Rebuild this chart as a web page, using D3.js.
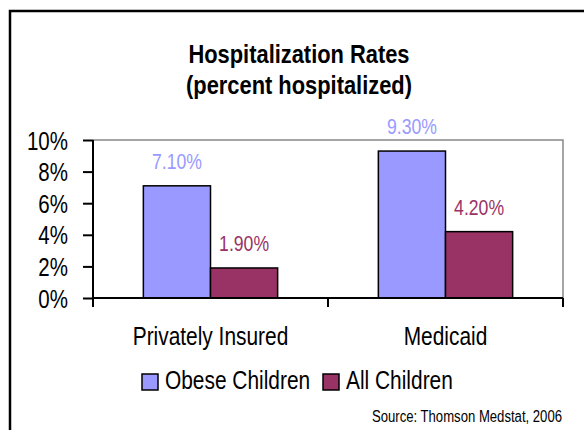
<!DOCTYPE html>
<html>
<head>
<meta charset="utf-8">
<script src="https://cdn.jsdelivr.net/npm/d3@7"></script>
<style>
  body { margin: 0; background: #fff; }
  text { font-family: "Liberation Sans", Arial, sans-serif; }
</style>
</head>
<body>
<div id="viz"></div>
<script>
const categories = ["Privately Insured", "Medicaid"]
const seriesNames = ["Obese Children", "All Children"]
const obese = [7.1, 9.3]
const allKids = [1.9, 4.2]
const yTicks = [0, 2, 4, 6, 8, 10]
const colors = ["#9999ff", "#993366"]

const width = 584
const height = 430
const squeeze = 0.82 // fake Arial Narrow by squeezing Liberation Sans

const svg = d3.select("#viz").append("svg")
  .attr("width", width)
  .attr("height", height)

// put a text at (x,y) and squeeze it horizontally
function narrowText(parent, x, y, str, size, sq = squeeze) {
  return parent.append("text")
    .attr("transform", `translate(${x},${y}) scale(${sq},1)`)
    .attr("font-size", size)
    .text(str)
}

// outer frame (runs off the right and bottom edges)
svg.append("rect")
  .attr("x", 10)
  .attr("y", 11)
  .attr("width", 600)
  .attr("height", 450)
  .attr("fill", "#fff")
  .attr("stroke", "#000")
  .attr("stroke-width", 2.5)

const plot = { left: 93, right: 563, top: 140, bottom: 298 }

const x = d3.scaleBand()
  .domain(categories)
  .range([plot.left, plot.right])

const inner = d3.scaleBand()
  .domain(seriesNames)
  .range([0, x.bandwidth()])
  .paddingInner(0)
  .paddingOuter(0.75)

const y = d3.scaleLinear()
  .domain([0, 10])
  .range([plot.bottom, plot.top])

// title
narrowText(svg, 299, 63, "Hospitalization Rates", 25, 0.875)
  .attr("text-anchor", "middle")
  .attr("font-weight", "bold")
narrowText(svg, 299, 94, "(percent hospitalized)", 25, 0.875)
  .attr("text-anchor", "middle")
  .attr("font-weight", "bold")

// plot area border (gray top and right)
svg.append("path")
  .attr("d", `M${plot.left},${plot.top}H${plot.right}V${plot.bottom}`)
  .attr("fill", "none")
  .attr("stroke", "#888")
  .attr("stroke-width", 1.5)

const rows = categories.map((c, i) => ({ cat: c, values: [obese[i], allKids[i]] }))

const groups = svg.selectAll("g.cat")
  .data(rows)
  .enter()
  .append("g")
  .attr("class", "cat")
  .attr("transform", d => `translate(${x(d.cat)},0)`)

groups.selectAll("rect")
  .data(d => d.values.map((v, j) => ({ name: seriesNames[j], v: v, j: j })))
  .enter()
  .append("rect")
  .attr("x", d => inner(d.name))
  .attr("y", d => y(d.v))
  .attr("width", inner.bandwidth())
  .attr("height", d => y(0) - y(d.v))
  .attr("fill", d => colors[d.j])
  .attr("stroke", "#000")
  .attr("stroke-width", 1.5)

groups.selectAll("text.lbl")
  .data(d => d.values.map((v, j) => ({ name: seriesNames[j], v: v, j: j })))
  .enter()
  .append("text")
  .attr("class", "lbl")
  .attr("transform", d => `translate(${inner(d.name) + inner.bandwidth() / 2},${y(d.v) - 17}) scale(${squeeze},1)`)
  .attr("text-anchor", "middle")
  .attr("font-size", 21.5)
  .attr("fill", d => colors[d.j])
  .text(d => d.v.toFixed(2) + "%")

// y axis
const yAxis = svg.append("g")
  .attr("transform", `translate(${plot.left},0)`)
  .call(d3.axisLeft(y).tickValues(yTicks).tickFormat(d => d + "%").tickSize(10).tickPadding(0))
yAxis.select(".domain").attr("stroke", "#000").attr("stroke-width", 2).attr("d", `M0,${plot.top}V${plot.bottom}`)
yAxis.selectAll(".tick line").attr("stroke", "#000").attr("stroke-width", 2)
yAxis.selectAll(".tick text")
  .attr("font-size", 25)
  .attr("fill", "#000")
  .attr("font-family", null)
  .attr("x", null)
  .attr("dy", null)
  .attr("transform", `translate(-25,9) scale(${squeeze},1)`)

// x axis with ticks at the category boundaries
const xAxis = svg.append("g")
  .attr("transform", `translate(0,${plot.bottom})`)
xAxis.append("line")
  .attr("x1", plot.left).attr("x2", plot.right)
  .attr("stroke", "#000").attr("stroke-width", 2)
xAxis.selectAll("line.tk")
  .data([plot.left].concat(categories.map(c => x(c) + x.bandwidth())))
  .enter()
  .append("line")
  .attr("class", "tk")
  .attr("x1", d => d).attr("x2", d => d)
  .attr("y1", 0).attr("y2", 9)
  .attr("stroke", "#000").attr("stroke-width", 2)
categories.forEach(c => {
  narrowText(xAxis, x(c) + x.bandwidth() / 2, 47, c, 25.5)
    .attr("text-anchor", "middle")
})

// legend
const legend = svg.append("g").attr("transform", "translate(142,374)")
const legendX = [0, 181]
seriesNames.forEach((name, i) => {
  const item = legend.append("g").attr("transform", `translate(${legendX[i]},0)`)
  item.append("rect")
    .attr("width", 16).attr("height", 16)
    .attr("fill", colors[i])
    .attr("stroke", "#000").attr("stroke-width", 1.5)
  narrowText(item, 23, 15, name, 25.5)
})

// source note
narrowText(svg, 562, 422, "Source: Thomson Medstat, 2006", 16)
  .attr("text-anchor", "end")
</script>
</body>
</html>
